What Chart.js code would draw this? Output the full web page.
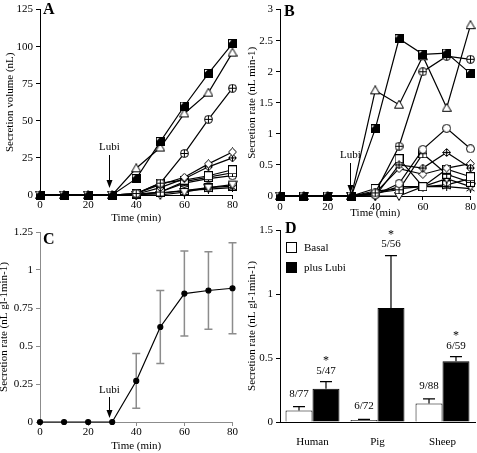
<!DOCTYPE html>
<html lang="en">
<head>
<meta charset="UTF-8">
<title>Secretion charts</title>
<script src="https://cdn.jsdelivr.net/npm/chart.js"></script>
<style>
  body { margin: 0; background: #fff; }
  .wrap { position: relative; width: 477px; height: 453px; overflow: hidden; }
  canvas { position: absolute; }
</style>
</head>
<body>
<div class="wrap">
  <canvas id="panelA" width="238" height="226" style="left:0;top:0"></canvas>
  <canvas id="panelB" width="239" height="226" style="left:238px;top:0"></canvas>
  <canvas id="panelC" width="238" height="241" style="left:0;top:212px"></canvas>
  <canvas id="panelD" width="239" height="241" style="left:238px;top:212px"></canvas>
</div>
<script>
// time points (min)
const timeMin = [0, 10, 20, 30, 40, 50, 60, 70, 80];

// A - secretion volume (nL), one array per gland
const volHalfSquare   = [0, 0, 0, 0, 11, 36, 60, 82, 102];
const volTriangle     = [0, 0, 0, 0, 18, 32, 55, 69, 96];
const volCirclePlus   = [0, 0, 0, 0, 1, 8, 28, 51, 72];
const volDiamond      = [0, 0, 0, 0, 1, 7, 12, 21, 29];
const volDiamondCross = [0, 0, 0, 0, 0.5, 5, 11, 19, 25];
const volSquare       = [0, 0, 0, 0, 1, 8, 10, 13, 17];
const volSquarePlus   = [0, 0, 0, 0, 0.5, 2, 9, 12, 15];
const volCircle       = [0, 0, 0, 0, 0.3, 2, 8, 11, 13];
const volTriDown      = [0, 0, 0, 0, 0, 0, 2, 5, 7];
const volStar         = [0, 0, 0, 0, 0, 1, 3, 4, 5];
const volSquare2      = [0, 0, 0, 0, 0.5, 1.5, 3, 5, 6];

// B - secretion rate (nL min-1)
const rateHalfSquare   = [0, 0, 0, 0, 1.08, 2.53, 2.28, 2.3, 1.97];
const rateTriangle     = [0, 0, 0, 0, 1.7, 1.47, 2.25, 1.42, 2.75];
const rateCirclePlus   = [0, 0, 0, 0, 0.05, 0.8, 2.0, 2.25, 2.2];
const rateCircle       = [0, 0, 0, 0, 0.02, 0.2, 0.75, 1.09, 0.76];
const rateDiamondCross = [0, 0, 0, 0, 0, 0.5, 0.45, 0.7, 0.45];
const rateDiamond      = [0, 0, 0, 0, 0.05, 0.44, 0.35, 0.45, 0.52];
const rateSquare       = [0, 0, 0, 0, 0.12, 0.6, 0.15, 0.43, 0.31];
const rateSquarePlus   = [0, 0, 0, 0, 0.05, 0.1, 0.68, 0.35, 0.22];
const rateTriDown      = [0, 0, 0, 0, 0, 0, 0.15, 0.28, 0.15];
const rateStar         = [0, 0, 0, 0, 0.03, 0.15, 0.15, 0.15, 0.12];
const rateSquare2      = [0, 0, 0, 0, 0.08, 0.12, 0.15, 0.18, 0.28];

// C - mean secretion rate per gland (nL gl-1 min-1) and its error
const meanRate = [0, 0, 0, 0, 0.27, 0.625, 0.845, 0.865, 0.88];
const meanErr  = [0, 0, 0, 0, 0.18, 0.24, 0.28, 0.255, 0.3];

// D - per species
const species   = ['Human', 'Pig', 'Sheep'];
const basal     = [0.09, 0.015, 0.145];
const basalErr  = [0.03, 0.005, 0.035];
const lubi      = [0.26, 0.89, 0.475];
const lubiErr   = [0.055, 0.41, 0.035];
const basalN    = ['8/77', '6/72', '9/88'];
const lubiN     = ['5/47', '5/56', '6/59'];

const serif = "'Liberation Serif', 'Times New Roman', serif";
const tickFont = { family: serif, size: 11 };
Chart.defaults.font.family = serif;
Chart.defaults.color = '#000';

// little marker pictures
function mk(draw, s) {
  s = s || 9;
  var c = document.createElement('canvas');
  c.width = s; c.height = s;
  var g = c.getContext('2d');
  g.lineWidth = 1; g.strokeStyle = '#000'; g.fillStyle = '#fff';
  draw(g, s);
  return c;
}
function sq(g, s) { g.fillRect(0.5, 0.5, s - 1, s - 1); g.strokeRect(0.5, 0.5, s - 1, s - 1); }
function plus(g, s) { g.beginPath(); g.moveTo(s / 2, 1); g.lineTo(s / 2, s - 1); g.moveTo(1, s / 2); g.lineTo(s - 1, s / 2); g.stroke(); }
function diamond(g, s) { g.beginPath(); g.moveTo(s / 2, 0.5); g.lineTo(s - 0.5, s / 2); g.lineTo(s / 2, s - 0.5); g.lineTo(0.5, s / 2); g.closePath(); g.fill(); g.stroke(); }

const mHalfSquare = mk(function (g, s) {
  sq(g, s);
  g.fillStyle = '#000';
  g.beginPath(); g.moveTo(s * 0.45, 0.5); g.lineTo(s - 0.5, 0.5); g.lineTo(s - 0.5, s - 0.5); g.lineTo(0.5, s - 0.5); g.lineTo(0.5, s * 0.45); g.closePath(); g.fill();
  g.strokeRect(0.5, 0.5, s - 1, s - 1);
});
const mSquare = mk(sq);
const mSquarePlus = mk(function (g, s) { sq(g, s); plus(g, s); });
const mTriangle = mk(function (g, s) { g.beginPath(); g.moveTo(s / 2, 0.5); g.lineTo(s - 0.5, s - 1.5); g.lineTo(0.5, s - 1.5); g.closePath(); g.fill(); g.stroke(); }, 10);
const mTriDown = mk(function (g, s) { g.beginPath(); g.moveTo(0.5, 1.5); g.lineTo(s - 0.5, 1.5); g.lineTo(s / 2, s - 0.5); g.closePath(); g.fill(); g.stroke(); }, 10);
const mCircle = mk(function (g, s) { g.beginPath(); g.arc(s / 2, s / 2, s / 2 - 0.5, 0, Math.PI * 2); g.fill(); g.stroke(); });
const mCirclePlus = mk(function (g, s) { g.beginPath(); g.arc(s / 2, s / 2, s / 2 - 0.5, 0, Math.PI * 2); g.fill(); g.stroke(); plus(g, s); });
const mDiamond = mk(diamond);
const mDiamondCross = mk(function (g, s) { diamond(g, s); g.fillStyle = '#000'; g.fillRect(s / 2 - 1, s / 2 - 1, 2, 2); plus(g, s); });
const mStar = mk(function (g, s) {
  g.beginPath(); g.moveTo(s / 2, 0); g.lineTo(s / 2, s); g.moveTo(0.5, 2); g.lineTo(s - 0.5, s - 2); g.moveTo(s - 0.5, 2); g.lineTo(0.5, s - 2); g.stroke();
});

function pts(ys) { return timeMin.map(function (t, i) { return { x: t, y: ys[i] }; }); }
function lineSet(ys, marker) {
  return { data: pts(ys), borderColor: '#000', borderWidth: 1.2, pointStyle: marker, pointRadius: 4, clip: false, tension: 0 };
}

function yAxis(min, max, step, title, o) {
  return {
    type: 'linear', min: min, max: max,
    ticks: { stepSize: step, font: tickFont, color: '#000', padding: 3, callback: function (v) { return String(+v.toFixed(2)); } },
    grid: { drawOnChartArea: false, tickLength: 4, color: o.axisColor || '#000' },
    border: { color: o.axisColor || '#000', width: 1 },
    title: { display: true, text: title, font: tickFont, color: '#000', padding: { top: o.titlePad, bottom: 0 } },
    afterFit: function (s) { s.width = o.width; }
  };
}
function timeAxis(o) {
  return {
    type: 'linear', min: 0, max: 80,
    ticks: { stepSize: 20, font: tickFont, color: '#000', padding: o.tickPad, maxRotation: 0 },
    grid: { drawOnChartArea: false, tickLength: 4, color: o.axisColor || '#000' },
    border: { color: o.axisColor || '#000', width: 1 },
    title: { display: true, text: 'Time (min)', font: tickFont, color: '#000', padding: { top: 0, bottom: o.titlePad } },
    afterFit: function (s) { s.height = o.height; }
  };
}

// arrow with "Lubi" above the time of addition
function lubiArrow(xVal, tipGap, lineLen, textGap) {
  return {
    id: 'lubi',
    afterDatasetsDraw: function (chart) {
      var ctx = chart.ctx, x = chart.scales.x, y = chart.scales.y;
      var px = Math.round(x.getPixelForValue(xVal)) + 0.5;
      var tip = y.getPixelForValue(0) - tipGap;
      var top = tip - lineLen;
      ctx.save();
      ctx.strokeStyle = '#000'; ctx.fillStyle = '#000'; ctx.lineWidth = 1;
      ctx.beginPath(); ctx.moveTo(px, top); ctx.lineTo(px, tip - 5); ctx.stroke();
      ctx.beginPath(); ctx.moveTo(px - 3, tip - 8); ctx.lineTo(px + 3, tip - 8); ctx.lineTo(px, tip); ctx.closePath(); ctx.fill();
      ctx.font = '11px ' + serif; ctx.textAlign = 'center'; ctx.textBaseline = 'middle';
      ctx.fillText('Lubi', px, top - textGap);
      ctx.restore();
    }
  };
}
function letter(txt, x, y) {
  return {
    id: 'letter',
    afterDraw: function (chart) {
      var ctx = chart.ctx;
      ctx.save(); ctx.font = 'bold 16px ' + serif; ctx.fillStyle = '#000'; ctx.textBaseline = 'alphabetic';
      ctx.fillText(txt, x, y); ctx.restore();
    }
  };
}

var baseOpts = { responsive: false, animation: false, plugins: { legend: { display: false }, tooltip: { enabled: false } } };
function opts(extra) { return Object.assign({}, baseOpts, extra); }

// A
new Chart(document.getElementById('panelA'), {
  type: 'line',
  data: { datasets: [
    lineSet(volHalfSquare, mHalfSquare), lineSet(volTriangle, mTriangle), lineSet(volCirclePlus, mCirclePlus),
    lineSet(volDiamond, mDiamond), lineSet(volDiamondCross, mDiamondCross), lineSet(volSquare, mSquare),
    lineSet(volSquarePlus, mSquarePlus), lineSet(volCircle, mCircle), lineSet(volTriDown, mTriDown),
    lineSet(volStar, mStar), lineSet(volSquare2, mSquare)
  ] },
  options: opts({
    layout: { padding: { left: 0, top: 4, right: 5, bottom: 0 } },
    scales: {
      x: timeAxis({ tickPad: 0, titlePad: 1, height: 31 }),
      y: yAxis(0, 125, 25, 'Secretion volume (nL)', { width: 40, titlePad: 3.5 })
    }
  }),
  plugins: [lubiArrow(28.5, 7, 33, 8), letter('A', 43, 14)]
});

// B
new Chart(document.getElementById('panelB'), {
  type: 'line',
  data: { datasets: [
    lineSet(rateHalfSquare, mHalfSquare), lineSet(rateTriangle, mTriangle), lineSet(rateCirclePlus, mCirclePlus),
    lineSet(rateCircle, mCircle), lineSet(rateDiamondCross, mDiamondCross), lineSet(rateDiamond, mDiamond),
    lineSet(rateSquare, mSquare), lineSet(rateSquarePlus, mSquarePlus), lineSet(rateTriDown, mTriDown),
    lineSet(rateStar, mStar), lineSet(rateSquare2, mSquare)
  ] },
  options: opts({
    layout: { padding: { left: 0, top: 4, right: 4, bottom: 0 } },
    scales: {
      x: timeAxis({ tickPad: 1, titlePad: 6, height: 30 }),
      y: yAxis(0, 3, 0.5, 'Secretion rate (nL min-1)', { width: 42, titlePad: 7.5 })
    }
  }),
  plugins: [lubiArrow(29.4, 3, 30, 8), letter('B', 46, 16)]
});

// C - mean with error bars
var errBarsC = {
  id: 'errC',
  beforeDatasetsDraw: function (chart) {
    var ctx = chart.ctx, x = chart.scales.x, y = chart.scales.y;
    ctx.save(); ctx.strokeStyle = '#8c8c8c'; ctx.lineWidth = 1.5;
    timeMin.forEach(function (t, i) {
      if (!meanErr[i]) return;
      var px = x.getPixelForValue(t);
      var y1 = y.getPixelForValue(meanRate[i] - meanErr[i]);
      var y2 = y.getPixelForValue(meanRate[i] + meanErr[i]);
      ctx.beginPath();
      ctx.moveTo(px, y1); ctx.lineTo(px, y2);
      ctx.moveTo(px - 4, y1); ctx.lineTo(px + 4, y1);
      ctx.moveTo(px - 4, y2); ctx.lineTo(px + 4, y2);
      ctx.stroke();
    });
    ctx.restore();
  }
};
new Chart(document.getElementById('panelC'), {
  type: 'line',
  data: { datasets: [{
    data: pts(meanRate), borderColor: '#000', borderWidth: 1.2, pointStyle: 'circle', pointRadius: 2.5,
    pointBackgroundColor: '#000', pointBorderColor: '#000', clip: false, tension: 0
  }] },
  options: opts({
    layout: { padding: { left: 0, top: 20, right: 5, bottom: 0 } },
    scales: {
      x: timeAxis({ tickPad: 0, titlePad: 0, height: 31, axisColor: '#8c8c8c' }),
      y: yAxis(0, 1.25, 0.25, 'Secretion rate (nL gl-1min-1)', { width: 40, titlePad: -2.5, axisColor: '#8c8c8c' })
    }
  }),
  plugins: [errBarsC, lubiArrow(28.5, 4, 21, 7), letter('C', 43, 32)]
});

// D - bars, error bars, n labels, legend
var extrasD = {
  id: 'extrasD',
  afterDatasetsDraw: function (chart) {
    var ctx = chart.ctx, y = chart.scales.y;
    ctx.save();
    ctx.strokeStyle = '#000'; ctx.fillStyle = '#000'; ctx.lineWidth = 1.2;
    ctx.font = '11px ' + serif; ctx.textAlign = 'center'; ctx.textBaseline = 'middle';
    var sets = [[basal, basalErr, basalN, false], [lubi, lubiErr, lubiN, true]];
    sets.forEach(function (set, d) {
      var meta = chart.getDatasetMeta(d);
      meta.data.forEach(function (bar, i) {
        var px = bar.x;
        var yb = y.getPixelForValue(set[0][i]);
        var yt = y.getPixelForValue(set[0][i] + set[1][i]);
        ctx.beginPath(); ctx.moveTo(px, yb); ctx.lineTo(px, yt);
        ctx.moveTo(px - 6, yt); ctx.lineTo(px + 6, yt); ctx.stroke();
        ctx.fillText(set[2][i], px, yt - (set[3] ? 11 : 13));
        if (set[3]) { ctx.font = '12px ' + serif; ctx.fillText('*', px, yt - 21); ctx.font = '11px ' + serif; }
      });
    });
    // legend
    ctx.lineWidth = 1;
    ctx.fillStyle = '#fff'; ctx.fillRect(48.5, 30.5, 10, 10); ctx.strokeRect(48.5, 30.5, 10, 10);
    ctx.fillStyle = '#000'; ctx.fillRect(48, 50, 11, 11);
    ctx.textAlign = 'left';
    ctx.fillText('Basal', 66, 36);
    ctx.fillText('plus Lubi', 66, 56);
    ctx.restore();
  }
};
new Chart(document.getElementById('panelD'), {
  type: 'bar',
  data: { labels: species, datasets: [
    { label: 'Basal', data: basal, backgroundColor: '#fff', borderColor: '#000', borderWidth: 1, categoryPercentage: 0.83, barPercentage: 1 },
    { label: 'plus Lubi', data: lubi, backgroundColor: '#000', borderColor: '#000', borderWidth: 1, categoryPercentage: 0.83, barPercentage: 1 }
  ] },
  options: opts({
    layout: { padding: { left: 0, top: 18, right: 2, bottom: 0 } },
    scales: {
      x: {
        type: 'category', offset: true,
        grid: { display: false }, border: { display: true, color: '#000' },
        ticks: { font: tickFont, color: '#000', padding: 6 },
        afterFit: function (s) { s.height = 31; }
      },
      y: yAxis(0, 1.5, 0.5, 'Secretion rate (nL gl-1min-1)', { width: 42, titlePad: 7.5 })
    }
  }),
  plugins: [extrasD, letter('D', 47, 21)]
});
</script>
</body>
</html>
